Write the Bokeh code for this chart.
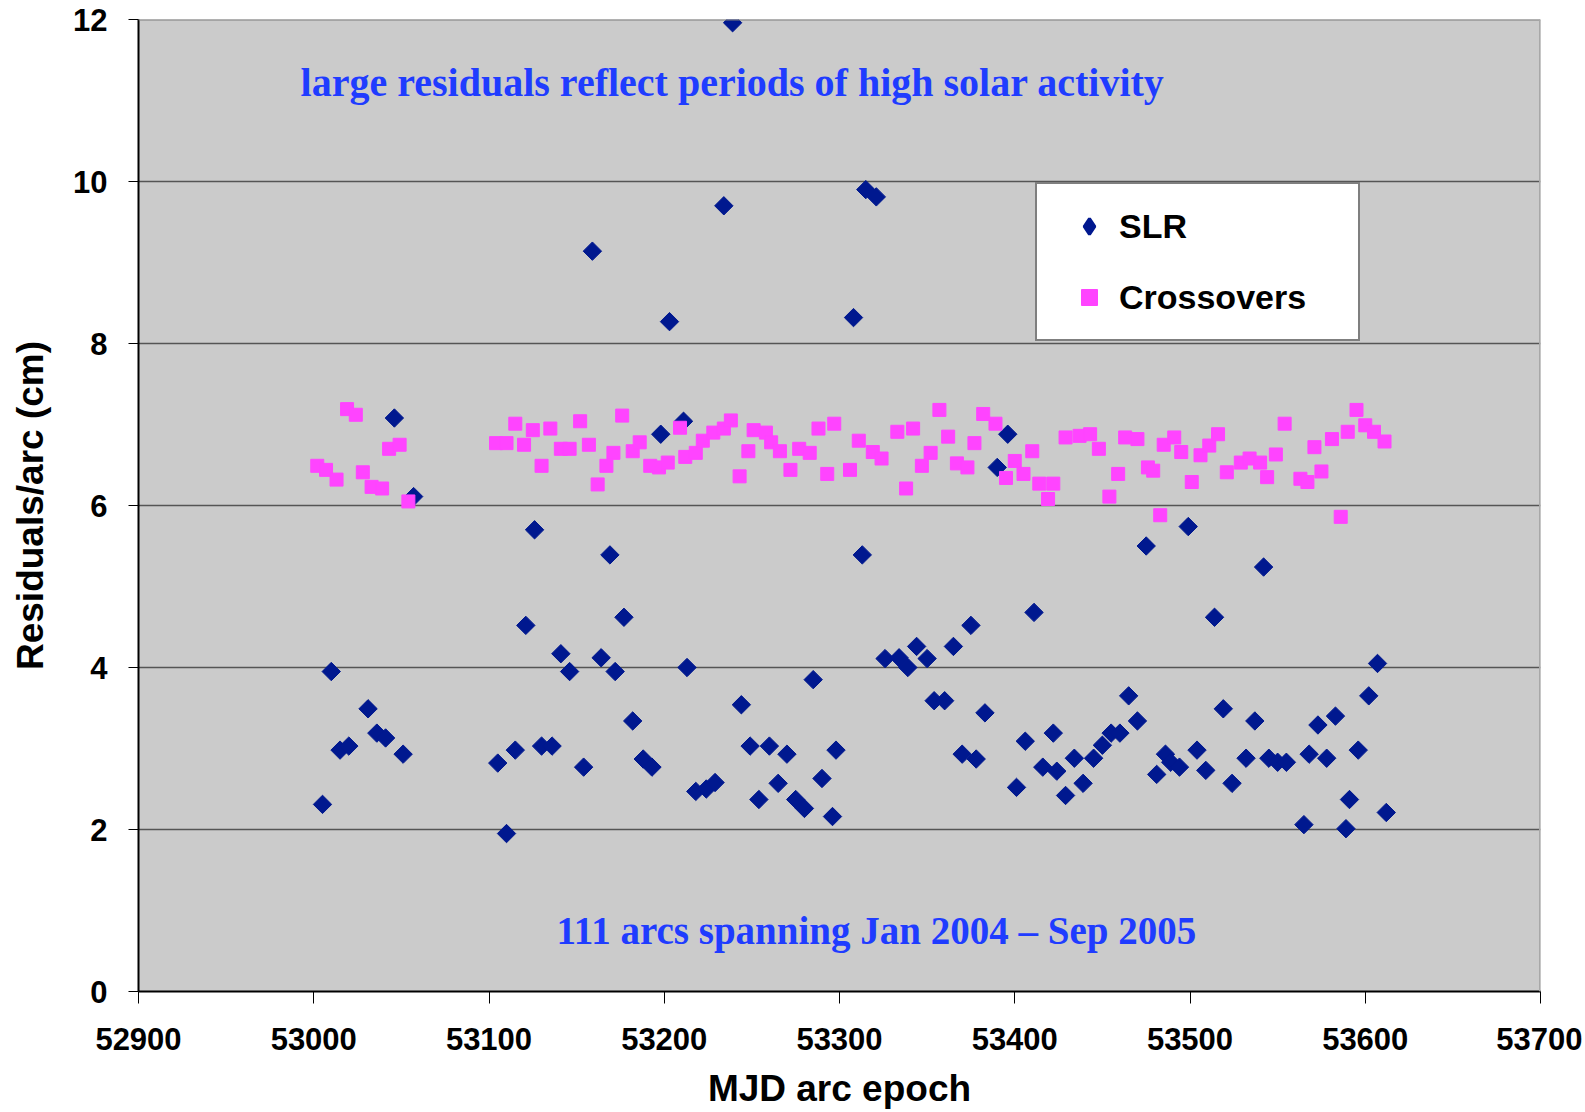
import math
from bokeh.plotting import figure
from bokeh.models import Range1d, Legend, LegendItem, Label, Span, FixedTicker
from bokeh.embed import file_html
from bokeh.resources import INLINE

# ---------------- data ----------------
slr_mjd = [53005, 53010, 53015, 53020, 53031, 53036, 53041, 53046, 53051, 53057,
           53105, 53110, 53115, 53121, 53126, 53130, 53136, 53141, 53146, 53154,
           53159, 53164, 53169, 53172, 53177, 53182, 53188, 53193, 53198, 53203,
           53211, 53213, 53218, 53224, 53229, 53234, 53239, 53244, 53249, 53254,
           53260, 53265, 53270, 53275, 53280, 53285, 53290, 53296, 53298, 53308,
           53313, 53315, 53321, 53326, 53334, 53339, 53344, 53350, 53354, 53360,
           53365, 53370, 53375, 53378, 53383, 53390, 53396, 53401, 53406, 53411,
           53416, 53422, 53424, 53429, 53434, 53439, 53445, 53450, 53455, 53460,
           53465, 53470, 53475, 53481, 53486, 53489, 53494, 53499, 53504, 53509,
           53514, 53519, 53524, 53532, 53537, 53542, 53545, 53550, 53555, 53565,
           53568, 53573, 53578, 53583, 53589, 53591, 53596, 53602, 53607, 53612]
slr_res = [2.31, 3.95, 2.98, 3.03, 3.49, 3.19, 3.13, 7.08, 2.93, 6.11,
           2.82, 1.95, 2.98, 4.52, 5.70, 3.03, 3.03, 4.17, 3.95, 2.77,
           9.14, 4.12, 5.39, 3.95, 4.62, 3.34, 2.87, 2.77, 6.88, 8.27,
           7.04, 4.00, 2.47, 2.50, 2.58, 9.70, 11.96, 3.54, 3.03, 2.37,
           3.03, 2.57, 2.93, 2.37, 2.26, 3.85, 2.63, 2.16, 2.98, 8.32,
           5.39, 9.90, 9.81, 4.11, 4.12, 4.00, 4.26, 4.11, 3.59, 3.59,
           4.26, 2.93, 4.52, 2.87, 3.44, 6.47, 6.88, 2.52, 3.09, 4.68,
           2.77, 3.19, 2.72, 2.42, 2.88, 2.57, 2.88, 3.04, 3.19, 3.19,
           3.65, 3.34, 5.50, 2.68, 2.93, 2.83, 2.77, 5.74, 2.98, 2.73,
           4.62, 3.49, 2.57, 2.88, 3.34, 5.24, 2.88, 2.83, 2.83, 2.06,
           2.93, 3.29, 2.88, 3.40, 2.01, 2.37, 2.98, 3.65, 4.05, 2.21]

xo_mjd = [53002, 53007, 53013, 53019, 53024, 53028, 53033, 53039, 53043, 53049,
          53054, 53104, 53110, 53115, 53120, 53125, 53130, 53135, 53141, 53146,
          53152, 53157, 53162, 53167, 53171, 53176, 53182, 53186, 53192, 53197,
          53202, 53209, 53212, 53218, 53222, 53228, 53234, 53238, 53243, 53248,
          53251, 53258, 53261, 53266, 53272, 53277, 53283, 53288, 53293, 53297,
          53306, 53311, 53319, 53324, 53333, 53338, 53342, 53347, 53352, 53357,
          53362, 53367, 53373, 53377, 53382, 53389, 53395, 53400, 53405, 53410,
          53414, 53419, 53422, 53429, 53437, 53443, 53448, 53454, 53459, 53463,
          53470, 53476, 53479, 53483, 53485, 53491, 53495, 53501, 53506, 53511,
          53516, 53521, 53529, 53534, 53540, 53544, 53549, 53554, 53563, 53567,
          53571, 53575, 53581, 53586, 53590, 53595, 53600, 53605, 53611]
xo_res = [6.49, 6.44, 6.32, 7.19, 7.12, 6.41, 6.23, 6.21, 6.70, 6.75,
          6.05, 6.77, 6.77, 7.01, 6.75, 6.93, 6.49, 6.95, 6.70, 6.70,
          7.04, 6.75, 6.26, 6.49, 6.65, 7.11, 6.67, 6.78, 6.49, 6.47,
          6.53, 6.96, 6.60, 6.65, 6.80, 6.90, 6.95, 7.05, 6.36, 6.67,
          6.93, 6.90, 6.78, 6.67, 6.44, 6.70, 6.65, 6.95, 6.39, 7.01,
          6.44, 6.80, 6.66, 6.58, 6.91, 6.21, 6.95, 6.49, 6.65, 7.18,
          6.85, 6.52, 6.47, 6.77, 7.13, 7.01, 6.34, 6.55, 6.39, 6.67,
          6.27, 6.08, 6.27, 6.84, 6.86, 6.88, 6.70, 6.11, 6.39, 6.84,
          6.82, 6.47, 6.43, 5.88, 6.75, 6.84, 6.66, 6.29, 6.62, 6.74,
          6.88, 6.41, 6.53, 6.58, 6.53, 6.35, 6.63, 7.01, 6.33, 6.29,
          6.72, 6.42, 6.82, 5.86, 6.91, 7.18, 6.99, 6.91, 6.79]

x_ticks = [52900, 53000, 53100, 53200, 53300, 53400, 53500, 53600, 53700]
y_ticks = [0, 2, 4, 6, 8, 10, 12]
series_names = ["SLR", "Crossovers"]
x_title = "MJD arc epoch"
y_title = "Residuals/arc (cm)"
note_top = "large residuals reflect periods of high solar activity"
note_bottom = "111 arcs spanning Jan 2004 \u2013 Sep 2005"

SLR_COLOR = "#00188f"
XO_COLOR = "#ff44ff"

# ---------------- figure ----------------
p = figure(width=1582, height=1111,
           x_range=Range1d(x_ticks[0], x_ticks[-1]),
           y_range=Range1d(y_ticks[0], y_ticks[-1]),
           output_backend="svg", toolbar_location=None,
           min_border_left=138, min_border_right=42,
           min_border_top=19, min_border_bottom=120)
p.background_fill_color = "#cbcbcb"
p.border_fill_color = "white"
p.outline_line_color = None

p.xgrid.visible = False
p.ygrid.ticker = FixedTicker(ticks=y_ticks)
p.ygrid.grid_line_color = "#555555"
p.ygrid.grid_line_width = 1.5

for ax, ticks in ((p.xaxis, x_ticks), (p.yaxis, y_ticks)):
    ax.ticker = FixedTicker(ticks=ticks)
    ax.axis_line_color = "black"
    ax.axis_line_width = 2
    ax.major_tick_line_color = "black"
    ax.major_tick_line_width = 1
    ax.major_tick_in = 0
    ax.minor_tick_line_color = None
    ax.major_label_text_font = "Liberation Sans"
    ax.major_label_text_font_style = "bold"
    ax.major_label_text_font_size = "31px"
    ax.major_label_text_color = "black"
    ax.axis_label_text_font = "Liberation Sans"
    ax.axis_label_text_font_style = "bold"
    ax.axis_label_text_color = "black"

p.xaxis.major_tick_out = 12
p.xaxis.major_label_standoff = 24
p.xaxis.axis_label = x_title
p.xaxis.axis_label_text_font_size = "37px"
p.xaxis.axis_label_standoff = 15

p.yaxis.major_tick_out = 10
p.yaxis.major_label_standoff = 21
p.yaxis.axis_label = y_title
p.yaxis.axis_label_text_font_size = "37px"
p.yaxis.axis_label_standoff = 19

# frame edges: top border line and light right edge
p.add_layout(Span(location=y_ticks[-1], dimension="width",
                  line_color="#7f7f7f", line_width=2))
p.add_layout(Span(location=x_ticks[-1], dimension="height",
                  line_color="#a8a8a8", line_width=3))

r_slr = p.scatter(slr_mjd, slr_res, marker="square", size=13, angle=math.pi / 4,
                  fill_color=SLR_COLOR, line_color=SLR_COLOR)
r_xo = p.scatter(xo_mjd, xo_res, marker="square", size=13,
                 fill_color=XO_COLOR, line_color=XO_COLOR)

# hidden legend proxy (diamond shape) so the legend key shows a diamond
r_slr_key = p.scatter(slr_mjd, slr_res, marker="diamond", fill_color=SLR_COLOR,
                      line_color=SLR_COLOR, line_width=3, visible=False)

legend = Legend(items=[LegendItem(label=series_names[0], renderers=[r_slr_key]),
                       LegendItem(label=series_names[1], renderers=[r_xo])],
                location=(897, 650), margin=0, padding=22, spacing=31,
                label_height=40, glyph_height=40, glyph_width=60,
                label_standoff=0, label_width=217,
                label_text_font="Liberation Sans", label_text_font_style="bold",
                label_text_font_size="34px", label_text_color="black",
                border_line_color="black", border_line_width=2,
                background_fill_color="white", background_fill_alpha=1.0,
                inactive_fill_alpha=0.0)
p.add_layout(legend)

blue = "#1f3cff"
p.add_layout(Label(x=53239, y=11.22, text=note_top, text_align="center",
                   text_baseline="alphabetic", text_font="Liberation Serif",
                   text_font_style="bold", text_font_size="40px", text_color=blue))
p.add_layout(Label(x=53321, y=0.75, text=note_bottom, text_align="center",
                   text_baseline="alphabetic", text_font="Liberation Serif",
                   text_font_style="bold", text_font_size="39px", text_color=blue))

open("out.html", "w").write(file_html(p, INLINE))
